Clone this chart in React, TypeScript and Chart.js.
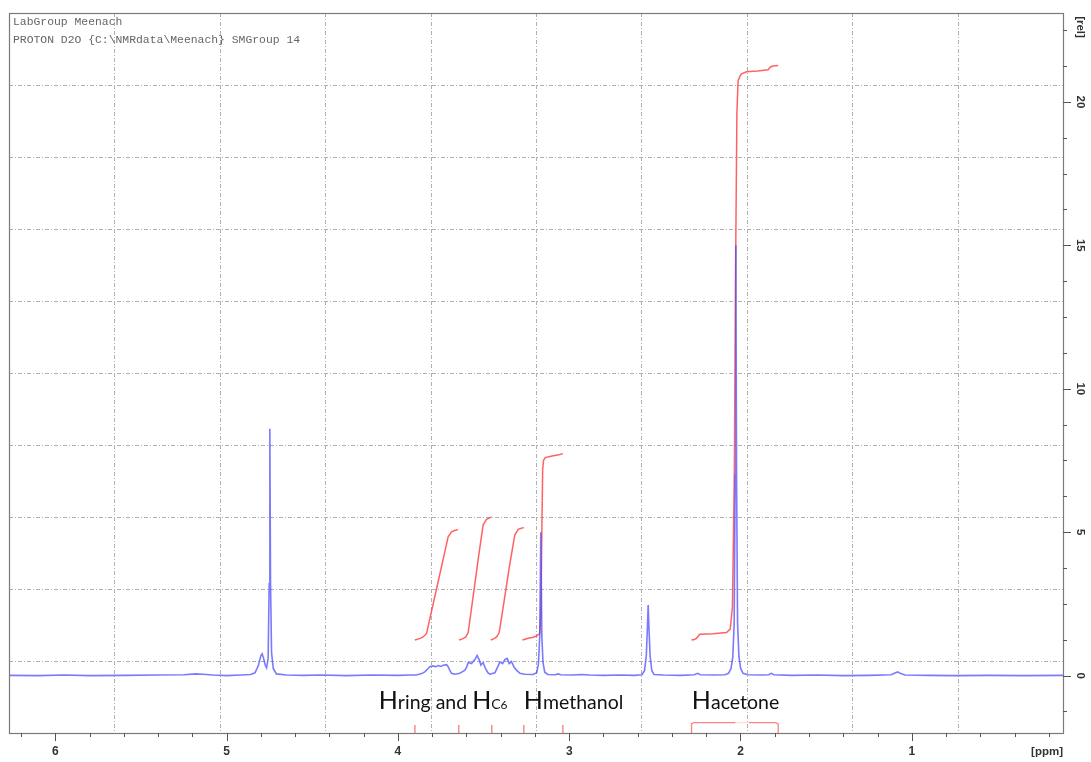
import React, { useEffect, useRef } from "react";
import { Chart, registerables } from "chart.js";

Chart.register(...registerables);

// Visible window of the spectrum (ppm runs right-to-left)
const ppmWindow = [6.271, 0.117];
const relWindow = [-2.0, 23.1];

const ppmTickLabels = [6, 5, 4, 3, 2, 1];
const relTickLabels = [0, 5, 10, 15, 20];

const headerLines = ["LabGroup Meenach", "PROTON D2O {C:\\NMRdata\\Meenach} SMGroup 14"];

// 1H spectrum trace
const spectrumPpm = [
  6.271, 6.1, 5.95, 5.8, 5.6, 5.4, 5.25, 5.18, 5.14, 5.08, 5.0, 4.92, 4.86,
  4.835, 4.815, 4.8, 4.793, 4.785, 4.775, 4.767, 4.758, 4.752, 4.748, 4.744, 4.738, 4.728,
  4.71, 4.65, 4.55, 4.45, 4.3, 4.15, 4.0, 3.93,
  3.891, 3.862, 3.843, 3.825, 3.814, 3.795, 3.779, 3.765, 3.751, 3.736, 3.716, 3.707, 3.697,
  3.687, 3.668, 3.639, 3.609, 3.597, 3.59, 3.58, 3.57, 3.56, 3.551, 3.538, 3.526, 3.516,
  3.503, 3.489, 3.475, 3.464, 3.434, 3.415, 3.405, 3.389, 3.376, 3.362, 3.351, 3.337, 3.323,
  3.308, 3.288, 3.259, 3.211, 3.19, 3.18, 3.172, 3.166, 3.16, 3.153, 3.143, 3.125,
  3.08, 3.065, 3.05, 2.98, 2.93, 2.88, 2.8, 2.7, 2.62,
  2.575, 2.56, 2.55, 2.544, 2.539, 2.534, 2.528, 2.518, 2.505,
  2.45, 2.35, 2.27, 2.25, 2.235, 2.15, 2.09,
  2.07, 2.055, 2.045, 2.037, 2.031, 2.027, 2.023, 2.017, 2.009, 1.999, 1.985,
  1.96, 1.87, 1.835, 1.82, 1.805, 1.7, 1.55, 1.4, 1.25, 1.12, 1.095, 1.082, 1.068, 1.04,
  0.9, 0.75, 0.55, 0.35, 0.117,
];
const spectrumIntensity = [
  0.01, 0.0, 0.02, 0.0, 0.01, 0.02, 0.03, 0.06, 0.05, 0.02, 0.0, 0.02, 0.04,
  0.1, 0.35, 0.7, 0.76, 0.62, 0.36, 0.27, 0.6, 3.2, 8.61, 3.2, 0.8, 0.25,
  0.06, 0.02, 0.01, 0.02, 0.0, 0.02, 0.01, 0.02,
  0.02, 0.07, 0.13, 0.24, 0.31, 0.34, 0.31, 0.35, 0.32, 0.36, 0.38, 0.31, 0.18,
  0.08, 0.05, 0.08, 0.19, 0.32, 0.45, 0.44, 0.42, 0.5, 0.56, 0.7, 0.56, 0.37,
  0.46, 0.25, 0.1, 0.05, 0.1, 0.34, 0.48, 0.42, 0.56, 0.6, 0.42, 0.49, 0.31,
  0.19, 0.08, 0.05, 0.04, 0.1, 0.4, 1.4, 5.0, 1.4, 0.45, 0.12, 0.04,
  0.03, 0.06, 0.03, 0.02, 0.04, 0.02, 0.01, 0.02, 0.01,
  0.03, 0.18, 0.7, 1.6, 2.46, 1.6, 0.7, 0.18, 0.04,
  0.02, 0.01, 0.03, 0.08, 0.03, 0.02, 0.03,
  0.08, 0.25, 0.65, 1.8, 7.0, 15.0, 7.0, 1.8, 0.65, 0.25, 0.08,
  0.03, 0.02, 0.03, 0.08, 0.03, 0.01, 0.02, 0.0, 0.01, 0.03, 0.1, 0.13, 0.08, 0.02,
  0.01, 0.0, 0.01, 0.0, 0.01,
];

// Integral curves
const integralRingAPpm = [3.901, 3.87, 3.853, 3.833, 3.815, 3.77, 3.73, 3.707, 3.687, 3.67, 3.649];
const integralRingAValue = [1.24, 1.3, 1.35, 1.47, 1.95, 3.15, 4.22, 4.84, 5.01, 5.06, 5.09];
const integralRingBPpm = [3.643, 3.62, 3.604, 3.59, 3.56, 3.53, 3.503, 3.483, 3.465, 3.454];
const integralRingBValue = [1.24, 1.29, 1.35, 1.5, 2.81, 4.12, 5.25, 5.45, 5.5, 5.53];
const integralRingCPpm = [3.458, 3.438, 3.424, 3.409, 3.38, 3.35, 3.318, 3.298, 3.28, 3.265];
const integralRingCValue = [1.24, 1.29, 1.35, 1.5, 2.61, 3.77, 4.9, 5.1, 5.14, 5.16];
const integralMethanolPpm = [3.273, 3.24, 3.21, 3.191, 3.172, 3.165, 3.16, 3.155, 3.15, 3.14, 3.1, 3.06, 3.037];
const integralMethanolValue = [1.24, 1.3, 1.34, 1.38, 1.47, 2.2, 5.0, 7.2, 7.5, 7.6, 7.66, 7.7, 7.74];
const integralAcetonePpm = [
  2.286, 2.27, 2.257, 2.238, 2.16, 2.082, 2.06, 2.047, 2.036, 2.029, 2.021, 2.014, 2.0,
  1.994, 1.965, 1.9, 1.839, 1.825, 1.81, 1.78,
];
const integralAcetoneValue = [
  1.24, 1.26, 1.3, 1.44, 1.46, 1.5, 1.62, 2.4, 7.0, 14.0, 19.6, 20.75, 20.93,
  20.98, 21.05, 21.08, 21.12, 21.22, 21.25, 21.27,
];

// Integration region limits shown under the trace
const integrationEdges = [3.901, 3.645, 3.452, 3.265, 3.037];
const acetoneRange = [2.286, 1.78];

// Assignment labels: ppm where each label starts, and its text pieces with font size
const assignmentLabels = [
  { ppm: 4.112, parts: [["H", 25], ["ring and ", 19.5], ["H", 25], ["C", 14], ["6", 12]] },
  { ppm: 3.265, parts: [["H", 25], ["methanol", 19.5]] },
  { ppm: 2.284, parts: [["H", 25], ["acetone", 19.5]] },
];
const labelLevel = -1.15;

const toPoints = (xs: number[], ys: number[]) => xs.map((x, i) => ({ x, y: ys[i] }));

const markerPoints = () => {
  const pts: { x: number; y: number | null }[] = [];
  integrationEdges.forEach((p) => {
    pts.push({ x: p, y: -1.72 }, { x: p, y: relWindow[0] }, { x: p, y: null });
  });
  return pts;
};

const RED = "rgba(255,70,70,0.85)";
const BLUE = "rgba(70,70,255,0.72)";

const decorPlugin = {
  id: "nmrDecor",
  beforeDatasetsDraw(chart: any) {
    const { ctx, chartArea: a } = chart;
    ctx.save();
    ctx.strokeStyle = "#b0b0b0";
    ctx.lineWidth = 1;
    ctx.setLineDash([4, 2, 1, 2]);
    for (let i = 1; i < 10; i++) {
      const x = Math.round(a.left + ((a.right - a.left) * i) / 10) + 0.5;
      ctx.beginPath();
      ctx.moveTo(x, a.top);
      ctx.lineTo(x, a.bottom);
      ctx.stroke();
      const y = Math.round(a.top + ((a.bottom - a.top) * i) / 10) + 0.5;
      ctx.beginPath();
      ctx.moveTo(a.left, y);
      ctx.lineTo(a.right, y);
      ctx.stroke();
    }
    ctx.restore();
  },
  afterDatasetsDraw(chart: any) {
    const { ctx, chartArea: a, scales } = chart;
    const xs = scales.x;
    const ys = scales.y;
    ctx.save();
    // header
    ctx.fillStyle = "#666";
    ctx.font = "11.4px 'Liberation Mono', monospace";
    ctx.textBaseline = "middle";
    ctx.textAlign = "left";
    ctx.fillText(headerLines[0], a.left + 4, 22);
    ctx.fillText(headerLines[1], a.left + 4, 40);

    // assignment labels
    ctx.fillStyle = "#111";
    ctx.textBaseline = "alphabetic";
    const by = ys.getPixelForValue(labelLevel);
    assignmentLabels.forEach((lab) => {
      let x = xs.getPixelForValue(lab.ppm);
      lab.parts.forEach(([t, s]: any) => {
        ctx.font = `${s}px Lato, 'Open Sans', sans-serif`;
        ctx.fillText(t, x, by);
        x += ctx.measureText(t).width;
      });
    });
    ctx.restore();
  },
  afterDraw(chart: any) {
    const { ctx, chartArea: a, scales } = chart;
    const xs = scales.x;
    const ys = scales.y;
    ctx.save();
    // frame
    ctx.strokeStyle = "#7a7a7a";
    ctx.lineWidth = 1.2;
    ctx.strokeRect(a.left + 0.5, a.top + 0.5, a.right - a.left, a.bottom - a.top);

    ctx.strokeStyle = "#555";
    ctx.lineWidth = 1;
    // x ticks
    const xmin = Math.min(...ppmWindow);
    const xmax = Math.max(...ppmWindow);
    for (let k = Math.ceil(xmin / 0.2); k * 0.2 <= xmax; k++) {
      const major = k % 5 === 0;
      const x = Math.round(xs.getPixelForValue(k * 0.2)) + 0.5;
      ctx.beginPath();
      ctx.moveTo(x, a.bottom);
      ctx.lineTo(x, a.bottom + (major ? 8 : 4));
      ctx.stroke();
    }
    // y ticks
    for (let k = Math.ceil(relWindow[0] / 1.25); k * 1.25 <= relWindow[1]; k++) {
      const major = k % 4 === 0;
      const y = Math.round(ys.getPixelForValue(k * 1.25)) + 0.5;
      ctx.beginPath();
      ctx.moveTo(a.right, y);
      ctx.lineTo(a.right + (major ? 8 : 4), y);
      ctx.stroke();
    }
    // y labels (rotated)
    ctx.fillStyle = "#333";
    ctx.font = "bold 11.5px 'Liberation Sans', Arial, sans-serif";
    ctx.textAlign = "center";
    ctx.textBaseline = "middle";
    const drawRot = (t: string, x: number, y: number) => {
      ctx.save();
      ctx.translate(x, y);
      ctx.rotate(Math.PI / 2);
      ctx.fillText(t, 0, 0);
      ctx.restore();
    };
    relTickLabels.forEach((v) => drawRot(String(v), a.right + 17, ys.getPixelForValue(v)));
    drawRot("[rel]", a.right + 17, a.top + 14);
    ctx.textAlign = "right";
    ctx.fillText("[ppm]", a.right, a.bottom + 19);
    ctx.restore();
  },
};

export default function App() {
  const ref = useRef<HTMLCanvasElement | null>(null);
  useEffect(() => {
    if (!ref.current) return;
    const line = (data: any[], color: string, width = 1.5, extra: any = {}) => ({
      data,
      borderColor: color,
      borderWidth: width,
      pointRadius: 0,
      tension: 0,
      fill: false,
      spanGaps: false,
      ...extra,
    });
    const chart = new Chart(ref.current, {
      type: "line",
      data: {
        datasets: [
          line(toPoints(spectrumPpm, spectrumIntensity), BLUE, 1.6),
          line(toPoints(integralRingAPpm, integralRingAValue), RED),
          line(toPoints(integralRingBPpm, integralRingBValue), RED),
          line(toPoints(integralRingCPpm, integralRingCValue), RED),
          line(toPoints(integralMethanolPpm, integralMethanolValue), RED),
          line(toPoints(integralAcetonePpm, integralAcetoneValue), RED),
          line(markerPoints(), "rgba(255,90,90,0.7)", 1.5),
          line(
            [
              { x: acetoneRange[0], y: relWindow[0] },
              { x: acetoneRange[0], y: -1.68 },
              { x: acetoneRange[0] - 0.012, y: -1.64 },
              { x: 2.03, y: -1.64 },
            ],
            "rgba(255,90,90,0.75)",
            1.3
          ),
          line(
            [
              { x: 2.03, y: -1.64 },
              { x: 1.95, y: -1.64 },
            ],
            "rgba(255,160,160,0.35)",
            1.3
          ),
          line(
            [
              { x: 1.95, y: -1.64 },
              { x: acetoneRange[1] + 0.015, y: -1.64 },
              { x: acetoneRange[1], y: -1.68 },
              { x: acetoneRange[1], y: relWindow[0] },
            ],
            "rgba(255,90,90,0.75)",
            1.3
          ),
        ],
      },
      options: {
        animation: false,
        responsive: true,
        maintainAspectRatio: false,
        parsing: true,
        layout: { padding: { left: 9, top: 13, right: 0, bottom: 0 } },
        plugins: { legend: { display: false }, tooltip: { enabled: false } },
        events: [],
        scales: {
          x: {
            type: "linear",
            reverse: true,
            min: ppmWindow[1],
            max: ppmWindow[0],
            grid: { display: false, drawTicks: true, tickLength: 8 },
            border: { display: false },
            afterBuildTicks: (s: any) => {
              s.ticks = ppmTickLabels.map((v) => ({ value: v }));
            },
            afterFit: (s: any) => {
              s.height = 29;
            },
            ticks: {
              autoSkip: false,
              maxRotation: 0,
              padding: 3,
              color: "#333",
              font: { family: "'Liberation Sans', Arial, sans-serif", weight: "bold", size: 12 },
              callback: (v: any) => String(v),
            },
          },
          y: {
            type: "linear",
            position: "right",
            min: relWindow[0],
            max: relWindow[1],
            grid: { display: false },
            border: { display: false },
            ticks: { display: false },
            afterBuildTicks: (s: any) => {
              s.ticks = relTickLabels.map((v) => ({ value: v }));
            },
            afterFit: (s: any) => {
              s.width = 28;
            },
          },
        },
      },
      plugins: [decorPlugin],
    });
    return () => chart.destroy();
  }, []);
  return (
    <div style={{ position: "absolute", left: 0, top: 0, width: 1091, height: 762, background: "#fff" }}>
      <canvas ref={ref} />
    </div>
  );
}
